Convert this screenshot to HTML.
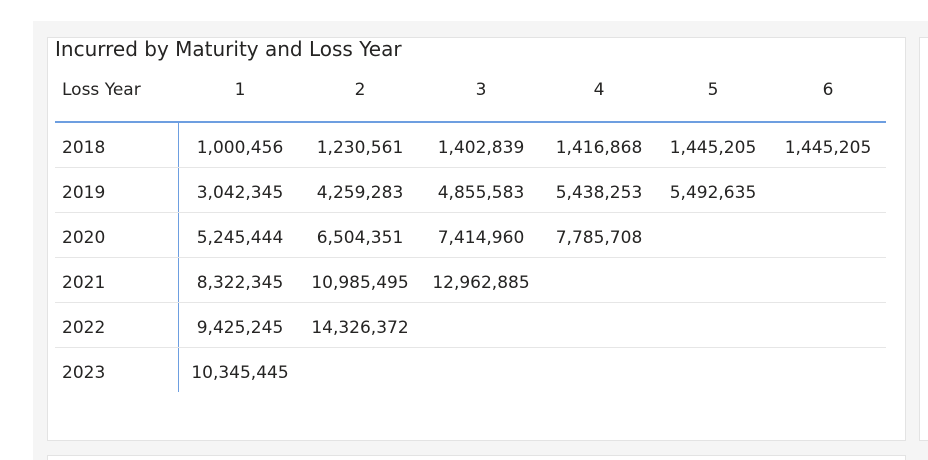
<!DOCTYPE html>
<html style="width:928px;height:460px;overflow:hidden"><head><meta charset="utf-8"><style>
html,body{margin:0;width:928px;height:460px;overflow:hidden}
body{background:#fff;position:relative;font-family:"DejaVu Sans","Liberation Sans",sans-serif;color:#252423}
.bg{position:absolute;left:33px;top:21px;width:895px;height:439px;background:#f5f5f5}
.card{position:absolute;background:#fff;border:1px solid #e3e3e3}
.t{position:absolute;white-space:nowrap;font-size:17px;transform:translateX(-50%)}
</style></head><body>
<div class="bg"></div>
<div class="card" style="left:47px;top:37px;width:857px;height:402px"></div>
<div class="card" style="left:919px;top:37px;width:20px;height:402px"></div>
<div class="card" style="left:47px;top:455px;width:857px;height:20px"></div>
<div style="position:absolute;left:55px;top:37px;font-size:20px;color:#252423;white-space:nowrap">Incurred by Maturity and Loss Year</div>
<div id="tbl"></div>
<script>
const years=["2018","2019","2020","2021","2022","2023"];
const maturities=["1","2","3","4","5","6"];
const r2018=["1,000,456","1,230,561","1,402,839","1,416,868","1,445,205","1,445,205"];
const r2019=["3,042,345","4,259,283","4,855,583","5,438,253","5,492,635"];
const r2020=["5,245,444","6,504,351","7,414,960","7,785,708"];
const r2021=["8,322,345","10,985,495","12,962,885"];
const r2022=["9,425,245","14,326,372"];
const r2023=["10,345,445"];
const rows=[r2018,r2019,r2020,r2021,r2022,r2023];
const colX=[240,360,481,599,713,828];
const t=document.getElementById('tbl');
function add(html,style,name,cls){const e=document.createElement('div');if(cls)e.className=cls;e.textContent=html;e.style.cssText=style;


t.appendChild(e);return e;}
add('Loss Year','position:absolute;left:62px;top:80px;font-size:17px;white-space:nowrap','row-header-label');
maturities.forEach((m,i)=>add(m,`left:${colX[i]}px;top:80px`,'column-header-'+m,'t'));
add('','position:absolute;left:55px;top:121px;width:831px;height:2px;background:#6d9ee0','header-divider');
add('','position:absolute;left:178px;top:122px;width:1px;height:270px;background:#6d9ee0','row-header-divider');
years.forEach((y,r)=>{
 const cy=147+r*45;
 add(y,`position:absolute;left:62px;top:${cy-9}px;font-size:17px`,'row-label-'+y);
 rows[r].forEach((v,c)=>add(v,`left:${colX[c]}px;top:${cy-9}px`,'cell-'+y+'-'+maturities[c],'t'));
 if(r<5)add('',`position:absolute;left:55px;top:${cy+20}px;width:831px;height:1px;background:#e6e6e6`,'row-separator');
});
</script>
</body></html>
